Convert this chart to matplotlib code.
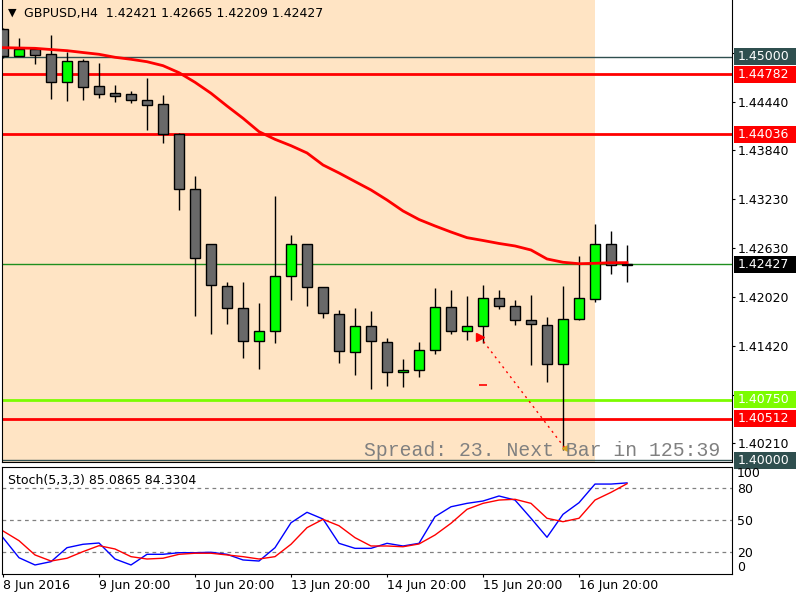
import numpy as np
import matplotlib.pyplot as plt
from matplotlib import transforms
from matplotlib.patches import Rectangle

# %% data (H4 bars, 8 Jun 20:00 .. 17 Jun)

bars = np.arange(40)

opens = [1.45340, 1.45013, 1.45096, 1.45034, 1.44683, 1.44947, 1.44637, 1.44547, 1.44538, 1.44464,
         1.44410, 1.44045, 1.43357, 1.42675, 1.42154, 1.41882, 1.41473, 1.41597, 1.42278, 1.42675,
         1.42142, 1.41811, 1.41336, 1.41659, 1.41460, 1.41088, 1.41113, 1.41361, 1.41894, 1.41597,
         1.41659, 1.42006, 1.41906, 1.41733, 1.41671, 1.41188, 1.41745, 1.41993, 1.42675, 1.42421]
highs = [1.45360, 1.45232, 1.45100, 1.45269, 1.45059, 1.44972, 1.44926, 1.44653, 1.44579, 1.44736,
         1.44522, 1.44050, 1.43522, 1.42680, 1.42208, 1.42208, 1.41947, 1.43274, 1.42790, 1.42680,
         1.42145, 1.41861, 1.41885, 1.41848, 1.41510, 1.41253, 1.41460, 1.42133, 1.42108, 1.42034,
         1.42167, 1.42105, 1.41985, 1.42043, 1.41770, 1.42154, 1.42526, 1.42923, 1.42836, 1.42665]
lows = [1.44990, 1.45005, 1.44913, 1.44476, 1.44451, 1.44464, 1.44488, 1.44442, 1.44430, 1.44095,
        1.43934, 1.43100, 1.41790, 1.41567, 1.41691, 1.41269, 1.41133, 1.41448, 1.41988, 1.41914,
        1.41765, 1.41207, 1.41059, 1.40885, 1.40922, 1.40910, 1.41034, 1.41311, 1.41559, 1.41485,
        1.41448, 1.41877, 1.41671, 1.41175, 1.40972, 1.40130, 1.41733, 1.41956, 1.42303, 1.42209]
closes = [1.45005, 1.45096, 1.45025, 1.44683, 1.44947, 1.44628, 1.44542, 1.44517, 1.44467, 1.44405,
          1.44042, 1.43357, 1.42501, 1.42167, 1.41882, 1.41473, 1.41597, 1.42278, 1.42675, 1.42142,
          1.41820, 1.41349, 1.41659, 1.41473, 1.41088, 1.41113, 1.41361, 1.41894, 1.41597, 1.41659,
          1.42006, 1.41906, 1.41733, 1.41683, 1.41188, 1.41745, 1.42006, 1.42675, 1.42415, 1.42427]

ma = [1.45112, 1.45108, 1.45104, 1.45089, 1.45075, 1.45052, 1.45030, 1.44993, 1.44968, 1.44938,
      1.44889, 1.44802, 1.44683, 1.44547, 1.44389, 1.44237, 1.44071, 1.43976, 1.43897, 1.43807,
      1.43658, 1.43559, 1.43453, 1.43348, 1.43224, 1.43088, 1.42982, 1.42902, 1.42827, 1.42757,
      1.42722, 1.42685, 1.42654, 1.42604, 1.42493, 1.42452, 1.42434, 1.42439, 1.42446, 1.42447]

stoch_k = [33.7, 14.9, 8.1, 11.2, 24.3, 27.5, 28.7, 13.7, 8.1, 18.1,
           18.1, 19.6, 19.6, 20.0, 18.1, 12.8, 11.8, 24.3, 47.7, 57.5,
           51.2, 28.4, 23.7, 23.7, 28.4, 25.9, 28.4, 53.4, 62.7, 65.9,
           68.1, 72.8, 69.0, 51.9, 34.1, 55.6, 66.5, 84.0, 84.0, 85.0865]
stoch_d = [40.0, 30.9, 17.5, 11.8, 14.4, 20.6, 26.2, 23.1, 15.9, 13.7,
           14.4, 18.1, 19.1, 19.1, 17.5, 15.9, 13.7, 15.9, 27.5, 43.1,
           50.9, 44.9, 33.7, 25.9, 25.9, 25.2, 27.8, 36.2, 47.2, 60.3,
           65.9, 69.0, 69.7, 65.9, 51.9, 48.7, 51.9, 69.0, 76.2, 84.3304]

# horizontal levels: (price, line color, width, label box color)
levels = [(1.45000, '#2f4f4f', 1.0, '#2f4f4f'),
          (1.44782, '#ff0000', 2.0, '#ff0000'),
          (1.44036, '#ff0000', 2.0, '#ff0000'),
          (1.42427, '#1f8f1f', 1.0, '#000000'),
          (1.40750, '#7cfc00', 2.0, '#7cfc00'),
          (1.40512, '#ff0000', 2.0, '#ff0000'),
          (1.40000, '#2f4f4f', 1.0, '#2f4f4f')]
price_ticks = [1.45050, 1.44440, 1.43840, 1.43230, 1.42630, 1.42020, 1.41420, 1.40810, 1.40210]
shade_end_bar = 37

# trade history marks
trade_open = (29.8, 1.41530)
trade_close = (35.1, 1.40154)
stop_mark = (30.0, 1.40931)

date_ticks = [0, 6, 12, 18, 24, 30, 36]
date_labels = ['8 Jun 2016', '9 Jun 20:00', '10 Jun 20:00', '13 Jun 20:00',
               '14 Jun 20:00', '15 Jun 20:00', '16 Jun 20:00']

# %%

fig = plt.figure(figsize=(8, 6), dpi=100)
ax = fig.add_axes([2/800, 1 - 462/600, 730/800, 462/600])
ax2 = fig.add_axes([2/800, 1 - 573.6/600, 730/800, 106.6/600])

xlim = (-1/16, 729/16)
ylim = (1.39976, 1.45703)
ax.set_xlim(*xlim)
ax.set_ylim(*ylim)
ax.axvspan(xlim[0], shade_end_bar, color='#ffe4c4', zorder=0, lw=0)

for price, col, lw, _ in levels:
    ax.axhline(price, color=col, lw=lw, zorder=1)

o = np.array(opens); c = np.array(closes)
ax.vlines(bars, lows, highs, color='black', lw=1, zorder=3)
bull = c >= o
body_col = np.where(bull, '#00ff00', '#696969')
ax.bar(bars, np.maximum(np.abs(c - o), 0.00003), bottom=np.minimum(o, c), width=0.62,
       color=body_col, edgecolor='black', lw=1, zorder=4)

ax.plot(bars, ma, color='#ff0000', lw=2, zorder=5)

ax.plot([trade_open[0], trade_close[0]], [trade_open[1], trade_close[1]],
        color='#ff0000', ls=(0, (1.5, 3)), lw=1, zorder=6)
ax.plot(*trade_open, marker='>', color='#ff0000', ms=6, zorder=7)
ax.plot(*trade_close, marker='<', color='#daa520', ms=5, zorder=7)
ax.plot(*stop_mark, marker='_', color='#ff0000', ms=6, mew=1.2, zorder=7)

ax.spines['top'].set_visible(False)
for s in ['left', 'right', 'bottom']:
    ax.spines[s].set_color('black')
ax.set_xticks([])
ax.yaxis.tick_right()
ax.set_yticks(price_ticks)
ax.set_yticklabels([f'{p:.5f}' for p in price_ticks])
ax.tick_params(axis='y', length=2.2, pad=1.8, labelsize=9, colors='black')

# coloured price labels on the scale
px_per_price = 462 / (ylim[1] - ylim[0])
box_h = 17 / px_per_price
trans = transforms.blended_transform_factory(ax.transAxes, ax.transData)
for price, _, _, col in levels:
    ax.add_patch(Rectangle((1.0027, price - box_h / 2), 62 / 730, box_h, transform=trans,
                           facecolor=col, edgecolor='none', clip_on=False, zorder=9))
    ax.text(1.0075, price, f'{price:.5f}', transform=trans, va='center', ha='left',
            fontsize=9, color='white', zorder=10)

ax.text(0.0075, 0.972, '\u25bc', transform=ax.transAxes, fontsize=8, va='center', ha='left')
ax.text(0.0302, 0.971, f'GBPUSD,H4  {opens[-1]:.5f} {highs[-1]:.5f} {lows[-1]:.5f} {closes[-1]:.5f}',
        transform=ax.transAxes, fontsize=9, va='center', ha='left')
ax.text(0.9836, 0.024, 'Spread: 23. Next Bar in 125:39', transform=ax.transAxes,
        family='Liberation Mono', fontsize=14.2, color='#808080', ha='right', va='center', zorder=8)

# %% stochastic

ax2.set_xlim(*xlim)
ax2.set_ylim(0, 100)
for lvl in [80, 50, 20]:
    ax2.axhline(lvl, color='#808080', lw=0.9, ls=(0, (3, 3)))
ax2.plot(bars, stoch_k, color='#0000ff', lw=1)
ax2.plot(bars, stoch_d, color='#ff0000', lw=1)
ax2.text(0.008, 0.87, 'Stoch(5,3,3) %.4f %.4f' % (stoch_k[-1], stoch_d[-1]),
         transform=ax2.transAxes, fontsize=9, va='center', ha='left')

ax2.yaxis.tick_right()
ax2.set_yticks([100, 80, 50, 20, 0])
ax2.set_yticklabels(['100', '80', '50', '20', '0'])
ax2.tick_params(axis='y', length=0, pad=3.6, labelsize=9)
ylabs = ax2.get_yticklabels()
ylabs[0].set_va('top')
ylabs[-1].set_va('bottom')

ax2.set_xticks(date_ticks)
ax2.set_xticklabels(date_labels, ha='left')
ax2.tick_params(axis='x', length=2.2, pad=1.5, labelsize=9)
for s in ax2.spines.values():
    s.set_color('black')

fig.savefig('out.png', dpi=100)
